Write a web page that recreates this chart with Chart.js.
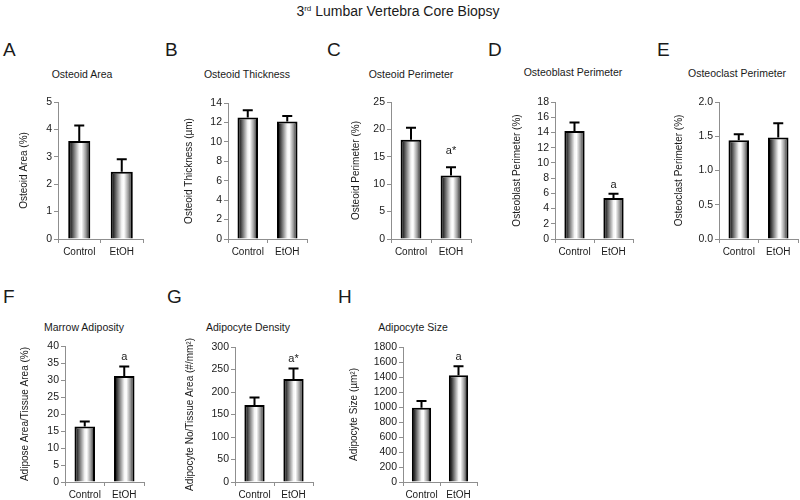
<!DOCTYPE html>
<html><head><meta charset="utf-8">
<script src="https://cdn.jsdelivr.net/npm/chart.js@4.4.1/dist/chart.umd.min.js"></script>
<style>
html,body{margin:0;padding:0;width:800px;height:500px;overflow:hidden;background:#fff;font-family:"Liberation Sans",Arial,sans-serif;color:#1a1a1a;}
.abs{position:absolute;white-space:nowrap;line-height:1;transform:translateY(-50%);}
.ctr{transform:translate(-50%,-50%);}
.letter{font-size:19px;}
.ptitle{font-size:10.5px;}
#main{font-size:14px;}
#main sup{font-size:8px;vertical-align:5px;line-height:0;}
canvas{position:absolute;}
</style></head><body>
<div id="main" class="abs ctr" style="left:398px;top:11px;">3<sup>rd</sup> Lumbar Vertebra Core Biopsy</div>
<div id="root"></div>
<script>
// ---- data ----
const categories = ['Control', 'EtOH'];

const osteoidAreaMean = [3.58, 2.45];
const osteoidAreaSem = [0.56, 0.46];
const osteoidAreaMarks = ['', ''];

const osteoidThicknessMean = [12.5, 12.1];
const osteoidThicknessSem = [0.75, 0.55];
const osteoidThicknessMarks = ['', ''];

const osteoidPerimeterMean = [18.1, 11.6];
const osteoidPerimeterSem = [2.2, 1.5];
const osteoidPerimeterMarks = ['', 'a*'];

const osteoblastPerimeterMean = [14.2, 5.4];
const osteoblastPerimeterSem = [1.1, 0.55];
const osteoblastPerimeterMarks = ['', 'a'];

const osteoclastPerimeterMean = [1.44, 1.48];
const osteoclastPerimeterSem = [0.09, 0.21];
const osteoclastPerimeterMarks = ['', ''];

const marrowAdiposityMean = [16.3, 31.2];
const marrowAdipositySem = [1.5, 2.8];
const marrowAdiposityMarks = ['', 'a'];

const adipocyteDensityMean = [171, 229];
const adipocyteDensitySem = [17, 23];
const adipocyteDensityMarks = ['', 'a*'];

const adipocyteSizeMean = [990, 1425];
const adipocyteSizeSem = [90, 120];
const adipocyteSizeMarks = ['', 'a'];

// axis tick settings: [max, step]
const axisA = [5, 1];
const axisB = [14, 2];
const axisC = [25, 5];
const axisD = [18, 2];
const axisE = [2.0, 0.5];
const axisF = [40, 5];
const axisG = [300, 50];
const axisH = [1800, 200];

const panels = [
  {letter:'A', title:'Osteoid Area', yTitle:'Osteoid Area (%)', mean:osteoidAreaMean, sem:osteoidAreaSem, marks:osteoidAreaMarks, axis:axisA, dec:0},
  {letter:'B', title:'Osteoid Thickness', yTitle:'Osteoid Thickness (µm)', mean:osteoidThicknessMean, sem:osteoidThicknessSem, marks:osteoidThicknessMarks, axis:axisB, dec:0},
  {letter:'C', title:'Osteoid Perimeter', yTitle:'Osteoid Perimeter (%)', mean:osteoidPerimeterMean, sem:osteoidPerimeterSem, marks:osteoidPerimeterMarks, axis:axisC, dec:0},
  {letter:'D', title:'Osteoblast Perimeter', yTitle:'Osteoblast Perimeter (%)', mean:osteoblastPerimeterMean, sem:osteoblastPerimeterSem, marks:osteoblastPerimeterMarks, axis:axisD, dec:0},
  {letter:'E', title:'Osteoclast Perimeter', yTitle:'Osteoclast Perimeter (%)', mean:osteoclastPerimeterMean, sem:osteoclastPerimeterSem, marks:osteoclastPerimeterMarks, axis:axisE, dec:1},
  {letter:'F', title:'Marrow Adiposity', yTitle:'Adipose Area/Tissue Area (%)', mean:marrowAdiposityMean, sem:marrowAdipositySem, marks:marrowAdiposityMarks, axis:axisF, dec:0},
  {letter:'G', title:'Adipocyte Density', yTitle:'Adipocyte No/Tissue Area (#/mm²)', mean:adipocyteDensityMean, sem:adipocyteDensitySem, marks:adipocyteDensityMarks, axis:axisG, dec:0},
  {letter:'H', title:'Adipocyte Size', yTitle:'Adipocyte Size (µm²)', mean:adipocyteSizeMean, sem:adipocyteSizeSem, marks:adipocyteSizeMarks, axis:axisH, dec:0}
];

// ---- layout (pixels) ----
const layout = {
  A:{axisX:58, axisR:143, top:102, bottom:239, titleOff:34, titleX:82, titleY:74, letterX:3, letterY:49, markGap:9},
  B:{axisX:228, axisR:307, top:103, bottom:239, titleOff:39, titleX:247, titleY:74, letterX:165, letterY:49, markGap:9},
  C:{axisX:391, axisR:471, top:102, bottom:239, titleOff:35, titleX:411, titleY:74, letterX:327, letterY:49, markGap:16},
  D:{axisX:555, axisR:633, top:102, bottom:239, titleOff:38, titleX:573, titleY:72, letterX:488, letterY:49, markGap:9},
  E:{axisX:719, axisR:798, top:102, bottom:239, titleOff:40, titleX:737, titleY:73, letterX:657, letterY:49, markGap:9},
  F:{axisX:65, axisR:144, top:346, bottom:482, titleOff:40, titleX:84, titleY:327, letterX:3, letterY:296, markGap:9},
  G:{axisX:235, axisR:313, top:347, bottom:482, titleOff:45, titleX:248, titleY:327, letterX:167, letterY:296, markGap:10},
  H:{axisX:403, axisR:477, top:347, bottom:482, titleOff:49, titleX:413, titleY:327, letterX:338, letterY:296, markGap:9}
};

const AXIS_COLOR = '#8f8f8f';
const TEXT_COLOR = '#1a1a1a';
const FONT = '"Liberation Sans", Arial, sans-serif';
Chart.defaults.font.family = FONT;
Chart.defaults.color = TEXT_COLOR;

const BAR_PCT = 0.52;

function barGradient(ctx) {
  const chart = ctx.chart;
  const xs = chart.scales.x;
  if (!xs || !chart.chartArea) return '#999';
  const cx = xs.getPixelForValue(ctx.dataIndex);
  const w = (xs.width / categories.length) * BAR_PCT;
  const g = chart.ctx.createLinearGradient(cx - w / 2, 0, cx + w / 2, 0);
  g.addColorStop(0, '#000');
  g.addColorStop(0.12, '#2a2a2a');
  g.addColorStop(0.3, '#8a8a8a');
  g.addColorStop(0.5, '#f4f4f4');
  g.addColorStop(0.6, '#ffffff');
  g.addColorStop(0.8, '#9a9a9a');
  g.addColorStop(1, '#111');
  return g;
}

const errPlugin = {
  id: 'errbars',
  afterDatasetsDraw(chart, args, opts) {
    const ctx = chart.ctx;
    const ds = chart.data.datasets[0];
    const ys = chart.scales.y;
    const meta = chart.getDatasetMeta(0);
    ctx.save();
    meta.data.forEach((bar, i) => {
      const v = ds.data[i];
      const top = ys.getPixelForValue(v + ds.sem[i]);
      const base = ys.getPixelForValue(v);
      ctx.strokeStyle = '#000';
      ctx.lineWidth = 2;
      ctx.beginPath();
      ctx.moveTo(bar.x, base);
      ctx.lineTo(bar.x, top);
      ctx.moveTo(bar.x - 5, top);
      ctx.lineTo(bar.x + 5, top);
      ctx.stroke();
      const m = ds.marks[i];
      if (m) {
        ctx.fillStyle = TEXT_COLOR;
        ctx.font = '11px ' + FONT;
        ctx.textAlign = 'center';
        ctx.textBaseline = 'middle';
        ctx.fillText(m, bar.x, top - opts.gap);
      }
    });
    ctx.restore();
  }
};

const root = document.getElementById('root');
panels.forEach(p => {
  const L = layout[p.letter];
  const yw = L.titleOff + 6;
  const padTop = 10, padRight = 4, xh = 25;
  const cw = Math.round(yw + (L.axisR - L.axisX) + padRight);
  const ch = (L.bottom - L.top) + padTop + xh;
  const left = L.axisX - yw;

  const letter = document.createElement('div');
  letter.className = 'abs letter';
  letter.style.left = L.letterX + 'px';
  letter.style.top = L.letterY + 'px';
  letter.textContent = p.letter;
  root.appendChild(letter);

  const t = document.createElement('div');
  t.className = 'abs ctr ptitle';
  t.style.left = L.titleX + 'px';
  t.style.top = L.titleY + 'px';
  t.textContent = p.title;
  root.appendChild(t);

  const c = document.createElement('canvas');
  c.width = cw; c.height = ch;
  c.style.left = left + 'px';
  c.style.top = (L.top - padTop) + 'px';
  c.style.width = cw + 'px'; c.style.height = ch + 'px';
  root.appendChild(c);

  new Chart(c, {
    type: 'bar',
    data: {
      labels: categories,
      datasets: [{
        data: p.mean,
        sem: p.sem,
        marks: p.marks,
        backgroundColor: barGradient,
        borderColor: '#000',
        borderWidth: 2,
        borderSkipped: 'bottom',
        barPercentage: BAR_PCT,
        categoryPercentage: 1
      }]
    },
    options: {
      responsive: false,
      animation: false,
      devicePixelRatio: 1,
      events: [],
      layout: {padding: {top: padTop, right: padRight, left: 0, bottom: 0}},
      plugins: {legend: {display: false}, tooltip: {enabled: false}, errbars: {gap: L.markGap}},
      scales: {
        x: {
          afterFit: s => { s.height = xh; },
          grid: {display: true, drawOnChartArea: false, drawTicks: true, tickLength: 4, color: AXIS_COLOR, offset: true},
          border: {display: true, color: AXIS_COLOR, width: 1},
          ticks: {font: {size: 10}, color: TEXT_COLOR, padding: 3, autoSkip: false, maxRotation: 0, minRotation: 0}
        },
        y: {
          min: 0, max: p.axis[0],
          afterFit: s => { s.width = yw; },
          grid: {display: true, drawOnChartArea: false, drawTicks: true, tickLength: 4, color: AXIS_COLOR},
          border: {display: true, color: AXIS_COLOR, width: 1},
          ticks: {stepSize: p.axis[1], font: {size: 10.5}, color: TEXT_COLOR, padding: 2, autoSkip: false,
                  callback: v => Number(v).toFixed(p.dec)},
          title: {display: true, text: p.yTitle, font: {size: 10}, color: TEXT_COLOR, padding: 0}
        }
      }
    },
    plugins: [errPlugin]
  });
});
</script>
</body></html>
